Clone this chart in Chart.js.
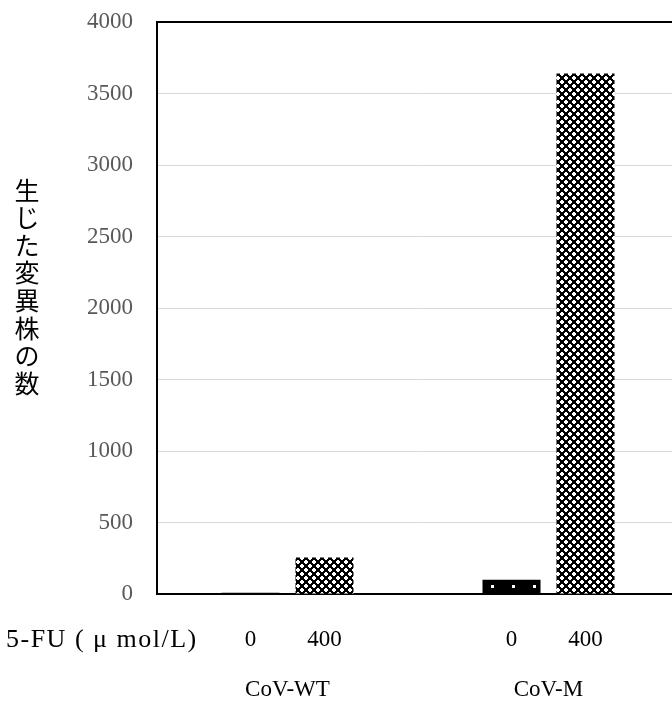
<!DOCTYPE html>
<html>
<head>
<meta charset="utf-8">
<script src="https://cdn.jsdelivr.net/npm/chart.js@4/dist/chart.umd.min.js"></script>
<style>
html,body{margin:0;padding:0;background:#fff;overflow:hidden;}
#wrap{width:690px;height:702px;position:relative;}
</style>
</head>
<body>
<div id="wrap"><canvas id="c" width="690" height="702"></canvas></div>
<script>
const groups = ["CoV-WT", "CoV-M"];
const doseLabels = ["0", "400"];
const values0 = [8, 100];
const values400 = [255, 3640];
const yTicks = [0, 500, 1000, 1500, 2000, 2500, 3000, 3500, 4000];
const rowLabel = "5-FU ( μ mol/L)";
const yTitle = "生じた変異株の数";

function makeChecker() {
  const c = document.createElement('canvas');
  c.width = 8; c.height = 8;
  const g = c.getContext('2d');
  g.fillStyle = '#000'; g.fillRect(0, 0, 8, 8);
  g.fillStyle = '#fff';
  g.fillRect(1, 0, 2, 4); g.fillRect(0, 1, 4, 2);
  g.fillRect(5, 4, 2, 4); g.fillRect(4, 5, 4, 2);
  return g.createPattern(c, 'repeat');
}
function makeDots() {
  const c = document.createElement('canvas');
  c.width = 21; c.height = 14;
  const g = c.getContext('2d');
  g.fillStyle = '#000'; g.fillRect(0, 0, 21, 14);
  g.fillStyle = '#fff'; g.fillRect(8, 11, 3, 3);
  return g.createPattern(c, 'repeat');
}
const ctx = document.getElementById('c').getContext('2d');
const checker = makeChecker();
const dots = makeDots();

const extras = {
  id: 'extras',
  afterDraw(chart) {
    const g = chart.ctx;
    const a = chart.chartArea;
    g.save();
    // top border
    g.strokeStyle = '#000'; g.lineWidth = 2;
    g.beginPath(); g.moveTo(a.left - 1, a.top); g.lineTo(a.right, a.top); g.stroke();
    // dose labels under bars
    g.fillStyle = '#000';
    g.font = '23px "Liberation Serif"';
    g.textAlign = 'center'; g.textBaseline = 'middle';
    chart.data.datasets.forEach((ds, i) => {
      chart.getDatasetMeta(i).data.forEach(el => {
        g.fillText(ds.label, el.x, 640);
      });
    });
    g.textAlign = 'left';
    g.font = '26px "Liberation Serif"';
    try { g.letterSpacing = '1.5px'; } catch (e) {}
    g.fillText(rowLabel, 6, 640);
    try { g.letterSpacing = '0px'; } catch (e) {}
    // vertical y title
    g.font = '25px "Noto Sans CJK JP"';
    g.textAlign = 'center';
    const chars = Array.from(yTitle);
    chars.forEach((ch, i) => g.fillText(ch, 27, 190 + i * 27.6));
    g.restore();
  }
};

new Chart(ctx, {
  type: 'bar',
  data: {
    labels: groups,
    datasets: [
      { label: doseLabels[0], data: values0, backgroundColor: dots, borderWidth: 0 },
      { label: doseLabels[1], data: values400, backgroundColor: checker, borderWidth: 0 }
    ]
  },
  options: {
    responsive: false,
    animation: false,
    devicePixelRatio: 1,
    layout: { padding: { left: 0, right: 11, top: 22, bottom: 0 } },
    categoryPercentage: 0.567,
    barPercentage: 0.784,
    plugins: { legend: { display: false }, tooltip: { enabled: false } },
    scales: {
      x: {
        grid: { display: false, drawTicks: false },
        border: { display: true, color: '#000', width: 2 },
        ticks: { color: '#000', font: { family: 'Liberation Serif', size: 23 }, padding: 82, maxRotation: 0 },
        afterFit(s) { s.height = 108; s.paddingLeft = 0; s.paddingRight = 0; }
      },
      y: {
        min: 0, max: 4000,
        afterBuildTicks(s) { s.ticks = yTicks.map(v => ({ value: v })); },
        grid: { color: '#d9d9d9', lineWidth: 1, drawTicks: false },
        border: { display: true, color: '#000', width: 2 },
        ticks: { color: '#595959', font: { family: 'Liberation Serif', size: 23 }, padding: 24,
                 callback: (v) => String(v) },
        afterFit(s) { s.width = 157; s.paddingTop = 0; s.paddingBottom = 0; }
      }
    }
  },
  plugins: [extras]
});
</script>
</body>
</html>
